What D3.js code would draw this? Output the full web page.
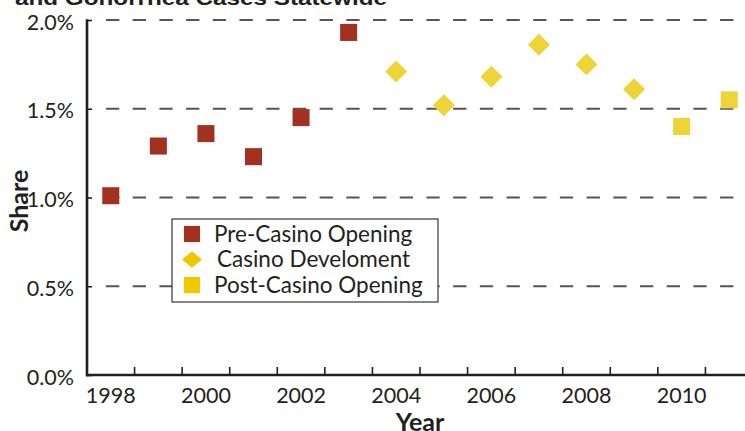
<!DOCTYPE html>
<html>
<head>
<meta charset="utf-8">
<script src="https://cdn.jsdelivr.net/npm/d3@7/dist/d3.min.js"></script>
<style>
  html, body { margin: 0; padding: 0; background: #fff; }
  svg { display: block; }
</style>
</head>
<body>
<svg id="chart" width="745" height="431"></svg>
<script>
// Share of cases by year, grouped by casino phase
const years  = [1998, 1999, 2000, 2001, 2002, 2003, 2004, 2005, 2006, 2007, 2008, 2009, 2010, 2011];
const shares = [0.0101, 0.0129, 0.0136, 0.0123, 0.0145, 0.0193, 0.0171, 0.0152, 0.0168, 0.0186, 0.0175, 0.0161, 0.0140, 0.0155];
const phases = ["pre", "pre", "pre", "pre", "pre", "pre", "dev", "dev", "dev", "dev", "dev", "dev", "post", "post"];

const phaseKeys   = ["pre", "dev", "post"];
const phaseLabels = ["Pre-Casino Opening", "Casino Develoment", "Post-Casino Opening"];
const yTicks      = [0, 0.005, 0.01, 0.015, 0.02];
const xLabelYears = [1998, 2000, 2002, 2004, 2006, 2008, 2010];

const titleText = "and Gonorrhea Cases Statewide";

const markColor   = { pre: "#a23121", dev: "#eed436", post: "#eed436" };
const legendColor = { pre: "#a23121", dev: "#efc800", post: "#efc800" };
const markShape   = { pre: "square", dev: "diamond", post: "square" };

const svg = d3.select("#chart");
const ink = "#231f20";
const tickFont = "Lato, 'Open Sans', sans-serif";

const x = d3.scaleBand().domain(years).range([87, 753]).paddingInner(0).paddingOuter(0);
const y = d3.scaleLinear().domain([0, 0.02]).range([375, 20]);

const xc = d => x(d) + x.bandwidth() / 2;

// Title (runs off the top edge)
svg.append("text")
  .attr("x", 15).attr("y", 5)
  .attr("font-family", "'Liberation Sans', Arial, sans-serif")
  .attr("font-weight", "bold")
  .attr("font-size", 21)
  .attr("textLength", 372)
  .attr("lengthAdjust", "spacingAndGlyphs")
  .attr("fill", ink)
  .text(titleText);

// Dashed gridlines
svg.append("g").selectAll("line")
  .data(yTicks.filter(t => t > 0))
  .join("line")
  .attr("x1", 106).attr("x2", 760)
  .attr("y1", d => y(d)).attr("y2", d => y(d))
  .attr("stroke", "#555")
  .attr("stroke-width", 2)
  .attr("stroke-dasharray", "13.3,13.4");

// Y axis with inward ticks
const yAxis = svg.append("g")
  .attr("transform", "translate(87,0)")
  .call(d3.axisLeft(y).tickValues(yTicks).tickFormat(d3.format(".1%")).tickSize(-5).tickPadding(13).tickSizeOuter(0));
yAxis.select(".domain").remove();
yAxis.selectAll(".tick line").attr("stroke", ink).attr("stroke-width", 1.6);
yAxis.selectAll(".tick text")
  .attr("font-family", tickFont).attr("font-size", 21.5).attr("fill", ink).attr("dy", "0.42em");
svg.append("line")
  .attr("x1", 87).attr("x2", 87).attr("y1", y(0.02) - 0.8).attr("y2", y(0) + 1.3)
  .attr("stroke", ink).attr("stroke-width", 2.6);

// X axis: ticks at year boundaries, labels on even years
svg.append("g").selectAll("line")
  .data(years.slice(1))
  .join("line")
  .attr("x1", d => x(d)).attr("x2", d => x(d))
  .attr("y1", y(0)).attr("y2", y(0) - 8)
  .attr("stroke", ink).attr("stroke-width", 1.6);
svg.append("line")
  .attr("x1", 86).attr("x2", 760).attr("y1", y(0)).attr("y2", y(0))
  .attr("stroke", ink).attr("stroke-width", 2.6);

const xAxis = svg.append("g")
  .attr("transform", `translate(0,${y(0)})`)
  .call(d3.axisBottom(x).tickValues(xLabelYears).tickSize(0).tickPadding(13));
xAxis.select(".domain").remove();
xAxis.selectAll(".tick text")
  .attr("font-family", tickFont).attr("font-size", 21.5).attr("fill", ink);

// Axis titles
svg.append("text")
  .attr("x", (x.range()[0] + x.range()[1]) / 2).attr("y", 431)
  .attr("text-anchor", "middle")
  .attr("font-family", tickFont).attr("font-weight", "bold").attr("font-size", 25)
  .attr("fill", ink).text("Year");
svg.append("text")
  .attr("transform", "translate(28,201) rotate(-90)")
  .attr("text-anchor", "middle")
  .attr("font-family", tickFont).attr("font-weight", "bold").attr("font-size", 25)
  .attr("fill", ink).text("Share");

// Marks
const symSquare  = d3.symbol().type(d3.symbolSquare).size(290);
const symDiamond = d3.symbol().type(d3.symbolSquare).size(242);

function drawMark(sel, shape, color) {
  if (shape === "diamond") {
    sel.append("path").attr("d", symDiamond()).attr("transform", "rotate(45)").attr("fill", color);
  } else {
    sel.append("path").attr("d", symSquare()).attr("fill", color);
  }
}

const points = years.map((yr, i) => ({ yr, v: shares[i], phase: phases[i] }));
svg.append("g").selectAll("g")
  .data(points)
  .join("g")
  .attr("transform", d => `translate(${xc(d.yr)},${y(d.v)})`)
  .each(function (d) { drawMark(d3.select(this), markShape[d.phase], markColor[d.phase]); });

// Legend
const legend = svg.append("g").attr("transform", "translate(172,219)");
legend.append("rect")
  .attr("x", 0).attr("y", 0).attr("width", 266).attr("height", 83)
  .attr("fill", "#fff").attr("stroke", "#444").attr("stroke-width", 1.3);
const rows = legend.selectAll("g.row")
  .data(phaseKeys)
  .join("g")
  .attr("class", "row")
  .attr("transform", (d, i) => `translate(20,${15 + i * 25.5})`);
rows.each(function (d) {
  const g = d3.select(this);
  if (markShape[d] === "diamond") {
    g.append("path").attr("d", d3.symbol().type(d3.symbolSquare).size(200)()).attr("transform", "scale(1,0.82) rotate(45)").attr("fill", legendColor[d]);
  } else {
    g.append("path").attr("d", d3.symbol().type(d3.symbolSquare).size(260)()).attr("fill", legendColor[d]);
  }
});
rows.append("text")
  .attr("x", (d, i) => i === 1 ? 25 : 22)
  .attr("y", 7.5)
  .attr("font-family", tickFont).attr("font-size", 22.5).attr("fill", ink)
  .text((d, i) => phaseLabels[i]);
</script>
</body>
</html>
